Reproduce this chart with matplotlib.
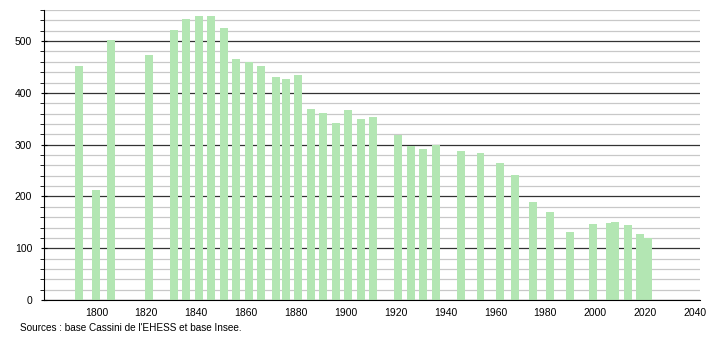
import matplotlib
matplotlib.use("Agg")
import matplotlib.pyplot as plt
from matplotlib.ticker import MultipleLocator

years = [1793, 1800, 1806, 1821, 1831, 1836, 1841, 1846, 1851, 1856, 1861, 1866,
         1872, 1876, 1881, 1886, 1891, 1896, 1901, 1906, 1911, 1921, 1926, 1931,
         1936, 1946, 1954, 1962, 1968, 1975, 1982, 1990, 1999, 2006, 2008, 2013,
         2018, 2021]
population = [451, 213, 502, 473, 521, 543, 549, 549, 525, 465, 460, 451,
              430, 426, 434, 368, 362, 342, 366, 349, 353, 318, 297, 291,
              300, 287, 283, 265, 242, 190, 169, 132, 147, 148, 150, 145,
              128, 120]
x_ticks = [1800, 1820, 1840, 1860, 1880, 1900, 1920, 1940, 1960, 1980, 2000, 2020, 2040]
source_text = "Sources : base Cassini de l'EHESS et base Insee."

plt.rcParams['font.family'] = ['Liberation Sans', 'DejaVu Sans']

fig = plt.figure(figsize=(7.1, 3.4), dpi=100)
ax = fig.add_axes([44/710, 40/340, 656/710, 290/340])

ax.set_xlim(1779, 2042)
ax.set_ylim(0, 560)

ax.yaxis.set_major_locator(MultipleLocator(100))
ax.yaxis.set_minor_locator(MultipleLocator(20))
ax.grid(which='minor', axis='y', color='#c8c8c8', linewidth=0.9)
ax.grid(which='major', axis='y', color='#333333', linewidth=0.9)
ax.set_axisbelow(True)

ax.bar(years, population, width=3.2, color='#b3e6b3', zorder=2)

ax.set_xticks(x_ticks)
ax.set_xticklabels([str(t) for t in x_ticks], fontsize=7.5)
ax.tick_params(axis='x', length=0, pad=6)
ax.tick_params(axis='y', which='major', length=5, direction='inout', labelsize=7.5, pad=6)
ax.tick_params(axis='y', which='minor', length=3, direction='out')

for s in ['top', 'right']:
    ax.spines[s].set_visible(False)
ax.spines['left'].set_color('black')
ax.spines['bottom'].set_color('black')

fig.text(20/710, 1 - 328/340, source_text, fontsize=7.2, va='center', ha='left')

fig.savefig("out.png", dpi=100)
